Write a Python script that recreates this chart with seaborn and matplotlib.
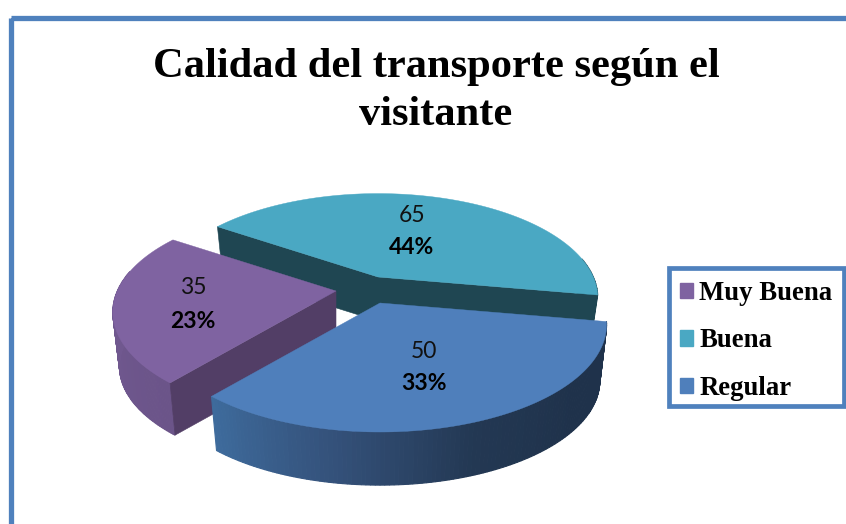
import numpy as np
import matplotlib
matplotlib.use("Agg")
import matplotlib.pyplot as plt
from matplotlib.patches import Patch, Rectangle
import seaborn as sns

# data
categorias = ["Muy Buena", "Buena", "Regular"]
valores = [35, 65, 50]
porcentajes = ["23%", "44%", "33%"]

titulo = "Calidad del transporte según el\nvisitante"

# colours
azul_marco = "#4F81BD"
colores_top = ["#7F63A1", "#4AA8C3", "#4F7FBB"]
colores_cara = ["#523E66", "#1F4652", "#1F324B"]
colores_borde = [
    ["#6B5489", "#70588F", "#6F578E"],
    ["#1F4652", "#1F4652"],
    ["#1F324B", "#1F324B", "#233853", "#34517A", "#3E6B9C"],
]

# pie geometry in pixels (each slice has its own exploded vertex)
vertices = [(336, 291), (378, 277), (380, 303)]
alturas = [55, 44, 57]
escalas = [0.985, 0.97, 1.0]
caras = [(0,), (0, -1), ()]
etiquetas_xy = [(193, 287, 321), (412, 215, 248), (424, 352, 383)]
RX, RY, PERSP = 222, 103.2, 0.2
INICIO = -130
BASE = 0.97


def proyecta(t, v, esc, alto=0, reduc=1.0):
    # tilted circle with some perspective, front looks larger than back
    d = 1 + PERSP * np.sin(t)
    x = v[0] + esc * reduc * RX * np.cos(t) / d
    y = v[1] + alto - esc * reduc * RY * np.sin(t) / d
    return x, y


sns.set_theme(style="white")
fig, ax = plt.subplots(figsize=(8.46, 5.24), dpi=100)
fig.subplots_adjust(0, 0, 1, 1)
ax.set_xlim(0, 846)
ax.set_ylim(524, 0)
ax.axis("off")

ax.add_patch(Rectangle((11, 17.5), 950, 650, fill=False, ec=azul_marco, lw=3.8, zorder=1))

# slices run clockwise from the front left, teal has to go first
spans = np.array(valores) / sum(valores) * 360
starts = INICIO - np.concatenate([[0], np.cumsum(spans)[:-1]])
orden = [1, 0, 2]
for z, i in enumerate(orden):
    v, esc, h = vertices[i], escalas[i], alturas[i]
    t = np.radians(np.linspace(starts[i], starts[i] - spans[i], 121))
    zo = 2 + z
    # outer rim as thin strips to get the gradient, only the front part shows
    pal = sns.blend_palette(colores_borde[i], len(t) - 1)
    xa, ya = proyecta(t, v, esc)
    xb, yb = proyecta(t, v, esc, h, BASE)
    for j in range(len(t) - 1):
        if np.sin(t[j]) < 0.2:
            ax.fill([xa[j], xa[j + 1], xb[j + 1], xb[j]], [ya[j], ya[j + 1], yb[j + 1], yb[j]],
                    color=pal[j], lw=0.8, zorder=zo)
    # inner cut faces
    for e in caras[i]:
        ax.fill([v[0], xa[e], xb[e], v[0]], [v[1], ya[e], yb[e], v[1] + h],
                color=colores_cara[i], lw=0.4, zorder=zo)
    # top
    ax.fill(np.r_[v[0], xa], np.r_[v[1], ya], color=colores_top[i], lw=0.3, zorder=zo)

# value and percent labels
for i, (x, y1, y2) in enumerate(etiquetas_xy):
    ax.text(x, y1, str(valores[i]), family="Lato", fontsize=16.5, color="#111111",
            ha="center", va="center", zorder=10)
    ax.text(x, y2, porcentajes[i], family="Lato", fontsize=16.5, fontweight="bold", color="black",
            ha="center", va="center", zorder=10)

ax.text(436, 91, titulo, family="Liberation Serif", fontweight="bold", fontsize=30.6,
        color="black", ha="center", va="center", linespacing=1.32, zorder=10)

# legend box drawn apart, the legend frame came out too tall
ax.add_patch(Rectangle((668.5, 267.5), 175.5, 138, fc="white", ec=azul_marco, lw=3.4, zorder=9))
handles = [Patch(color=c) for c in colores_top]
leg = ax.legend(handles, categorias, loc="upper left", bbox_to_anchor=(668, 268.5),
                bbox_transform=ax.transData, borderaxespad=0, borderpad=0.46,
                labelspacing=0.845, handlelength=0.49, handleheight=0.49, handletextpad=0.22,
                frameon=False, labelcolor="black",
                prop={"family": "Liberation Serif", "weight": "bold", "size": 19.3})
leg.set_zorder(11)

fig.savefig("out.png", dpi=100)
